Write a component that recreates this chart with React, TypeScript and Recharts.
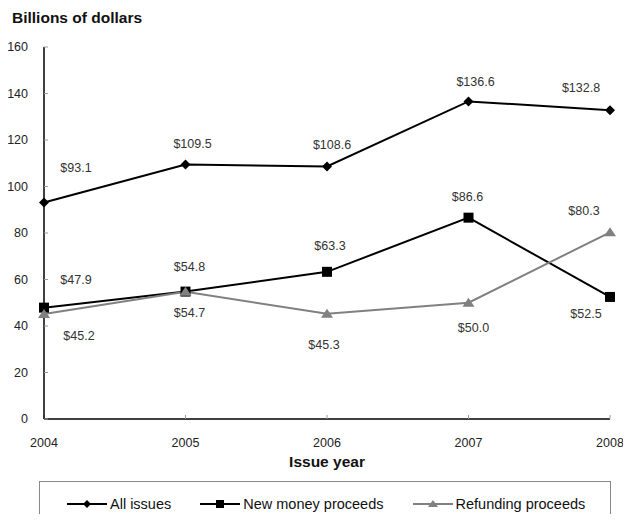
import React from "react";
import { LineChart, Line, XAxis, YAxis, LabelList } from "recharts";

const years = ["2004", "2005", "2006", "2007", "2008"];
const allIssues = [93.1, 109.5, 108.6, 136.6, 132.8];
const newMoney = [47.9, 54.8, 63.3, 86.6, 52.5];
const refunding = [45.2, 54.7, 45.3, 50.0, 80.3];
const yTicks = [0, 20, 40, 60, 80, 100, 120, 140, 160];

// where each value label sits relative to its point (dx, dy)
const allLabelPos = [[32, -35], [7, -20], [5, -22], [7, -19], [-29, -22]];
const newLabelPos = [[32, -28], [4, -25], [3, -26], [-1, -21], [-24, 17]];
const refLabelPos = [[35, 22], [4, 21], [-3, 31], [5, 25], [-26, -21]];

const data = years.map((year, i) => ({
  year,
  all: allIssues[i],
  fresh: newMoney[i],
  refund: refunding[i],
}));

const FONT = '"Liberation Sans", Arial, Helvetica, sans-serif';
const GRAY = "#808080";

// marker shapes; colour comes in as `tone` because recharts overwrites `fill`
const Diamond = (props: any) => {
  const { cx, cy, tone = "#000", size = 5 } = props;
  if (cx == null || cy == null) return null;
  return (
    <polygon
      points={`${cx},${cy - size} ${cx + size},${cy} ${cx},${cy + size} ${cx - size},${cy}`}
      fill={tone}
    />
  );
};

const Square = (props: any) => {
  const { cx, cy, tone = "#000", size = 5 } = props;
  if (cx == null || cy == null) return null;
  return <rect x={cx - size} y={cy - size} width={size * 2} height={size * 2} fill={tone} />;
};

const Triangle = (props: any) => {
  const { cx, cy, tone = GRAY, size = 5 } = props;
  if (cx == null || cy == null) return null;
  return (
    <polygon
      points={`${cx},${cy - size} ${cx + size + 1},${cy + size - 1} ${cx - size - 1},${cy + size - 1}`}
      fill={tone}
    />
  );
};

const valueLabel = (pos: number[][]) => (props: any) => {
  const { x, y, value, index } = props;
  const [dx, dy] = pos[index] || [0, -15];
  return (
    <text
      x={x + dx}
      y={y + dy}
      textAnchor="middle"
      dominantBaseline="central"
      fontSize={12.5}
      fontFamily={FONT}
      fill="#333"
    >
      {`$${Number(value).toFixed(1)}`}
    </text>
  );
};

function LegendItem({ label, color, Marker }: { label: string; color: string; Marker: any }) {
  return (
    <div style={{ display: "flex", alignItems: "center" }}>
      <svg width={40} height={12} style={{ marginRight: 3 }}>
        <line x1={0} y1={6} x2={40} y2={6} stroke={color} strokeWidth={2} />
        <Marker cx={20} cy={6} size={4} tone={color} />
      </svg>
      <span>{label}</span>
    </div>
  );
}

export default function App() {
  return (
    <div
      style={{
        position: "relative",
        width: 631,
        height: 522,
        margin: -8,
        overflow: "hidden",
        background: "#fff",
        fontFamily: FONT,
      }}
    >
      <div
        style={{
          position: "absolute",
          left: 12,
          top: 9,
          fontSize: 15.5,
          fontWeight: "bold",
          color: "#111",
        }}
      >
        Billions of dollars
      </div>

      <LineChart
        width={631}
        height={475}
        data={data}
        margin={{ top: 47, right: 21, left: 0, bottom: 16 }}
        style={{ position: "absolute", left: 0, top: 0 }}
      >
        <XAxis
          dataKey="year"
          height={40}
          tickSize={-4}
          tickMargin={23}
          axisLine={{ stroke: "#000", strokeWidth: 1.5 }}
          tickLine={{ stroke: "#999" }}
          tick={{ fill: "#222", fontSize: 12.5, fontFamily: FONT }}
          interval={0}
          label={{
            value: "Issue year",
            position: "bottom",
            offset: -3,
            fill: "#111",
            fontSize: 15.5,
            fontWeight: "bold",
            fontFamily: FONT,
          }}
        />
        <YAxis
          width={44}
          domain={[0, 160]}
          ticks={yTicks}
          interval={0}
          tickSize={-4}
          tickMargin={20}
          axisLine={{ stroke: "#000", strokeWidth: 1.5 }}
          tickLine={{ stroke: "#999" }}
          tick={{ fill: "#222", fontSize: 12.5, fontFamily: FONT }}
        />
        <Line
          dataKey="all"
          stroke="#000"
          strokeWidth={2}
          dot={<Diamond size={5} tone="#000" />}
          activeDot={false}
          isAnimationActive={false}
        >
          <LabelList dataKey="all" content={valueLabel(allLabelPos)} />
        </Line>
        <Line
          dataKey="fresh"
          stroke="#000"
          strokeWidth={2}
          dot={<Square size={5} tone="#000" />}
          activeDot={false}
          isAnimationActive={false}
        >
          <LabelList dataKey="fresh" content={valueLabel(newLabelPos)} />
        </Line>
        <Line
          dataKey="refund"
          stroke={GRAY}
          strokeWidth={2}
          dot={<Triangle size={5} tone={GRAY} />}
          activeDot={false}
          isAnimationActive={false}
        >
          <LabelList dataKey="refund" content={valueLabel(refLabelPos)} />
        </Line>
      </LineChart>

      <div
        style={{
          position: "absolute",
          left: 39,
          top: 481,
          width: 572,
          height: 60,
          border: "1px solid #888",
          boxSizing: "border-box",
          fontSize: 14.5,
          color: "#111",
        }}
      >
        <div
          style={{
            position: "absolute",
            top: 14,
            left: 27,
            display: "flex",
            gap: 29,
          }}
        >
          <LegendItem label="All issues" color="#000" Marker={Diamond} />
          <LegendItem label="New money proceeds" color="#000" Marker={Square} />
          <LegendItem label="Refunding proceeds" color={GRAY} Marker={Triangle} />
        </div>
      </div>
    </div>
  );
}
